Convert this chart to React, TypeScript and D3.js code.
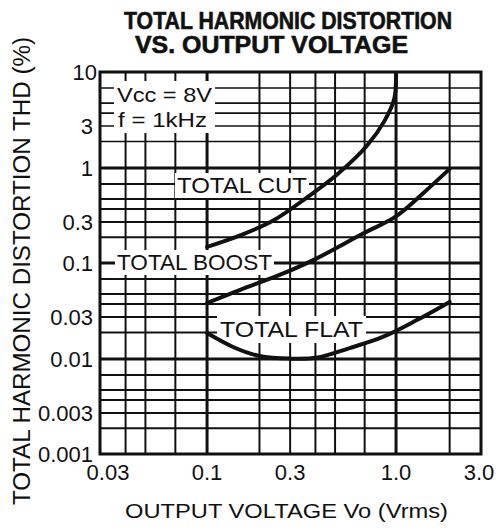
import React, { useEffect, useRef } from 'react';
import * as d3 from 'd3';

// ---------- data ----------
const titleLines = ['TOTAL HARMONIC DISTORTION', 'VS. OUTPUT VOLTAGE'];
const xAxisTitle = 'OUTPUT VOLTAGE Vo (Vrms)';
const yAxisTitle = 'TOTAL HARMONIC DISTORTION THD (%)';

const xTickValues = [0.03, 0.1, 0.3, 1, 3];
const xTickLabels = ['0.03', '0.1', '0.3', '1.0', '3.0'];
const yTickValues = [10, 3, 1, 0.3, 0.1, 0.03, 0.01, 0.003, 0.001];
const yTickLabels = ['10', '3', '1', '0.3', '0.1', '0.03', '0.01', '0.003', '0.001'];

const xGridValues = [0.04, 0.05, 0.07, 0.1, 0.2, 0.3, 0.4, 0.5, 0.7, 1, 2];
const yGridValues = [7, 5, 4, 3, 2, 1, 0.7, 0.5, 0.4, 0.3, 0.2, 0.1, 0.07, 0.05, 0.04, 0.03, 0.02, 0.01, 0.007, 0.005, 0.004, 0.003, 0.002];
const xMajorValues = [0.1, 1];
const yMajorValues = [1, 0.1, 0.01];

const seriesNames = ['TOTAL CUT', 'TOTAL BOOST', 'TOTAL FLAT'];
const cutVo = [0.1, 0.155, 0.24, 0.364, 0.51, 0.72, 0.88, 0.98, 1.0];
const cutThd = [0.154, 0.21, 0.31, 0.52, 0.86, 1.8, 3.4, 5.5, 10];
const boostVo = [0.1, 0.155, 0.263, 0.39, 0.687, 1.0, 1.42, 2.0];
const boostThd = [0.041, 0.055, 0.077, 0.108, 0.22, 0.34, 0.57, 0.98];
const flatVo = [0.1, 0.141, 0.2, 0.3, 0.41, 0.59, 0.86, 1.31, 2.0];
const flatThd = [0.0197, 0.0137, 0.0108, 0.0101, 0.0104, 0.0133, 0.0178, 0.0277, 0.042];

const conditionLines = ['Vcc = 8V', 'f = 1kHz'];

// ---------- layout ----------
const W = 496;
const H = 531;
const PL = 100, PR = 481, PT = 72, PB = 454;
// hand-drawn log paper: fractional positions of the labelled decades/thirds
const xFrac = [0, 0.281, 0.499, 0.777, 1];
const yFrac = [0, 54, 96, 150, 191, 245, 287, 341, 382].map((v) => v / 382);
const FONT = '"Liberation Sans", Arial, Helvetica, sans-serif';

export default function App() {
  const ref = useRef<SVGSVGElement | null>(null);

  useEffect(() => {
    const svg = d3.select(ref.current);
    svg.selectAll('*').remove();

    const x = d3.scaleLog().domain(xTickValues).range(xFrac.map((f) => PL + f * (PR - PL)));
    const y = d3.scaleLog().domain(yTickValues).range(yFrac.map((f) => PT + f * (PB - PT)));

    svg.append('rect').attr('width', W).attr('height', H).attr('fill', '#fff');

    svg.append('defs').append('clipPath').attr('id', 'plotClip')
      .append('rect').attr('x', PL).attr('y', PT).attr('width', PR - PL).attr('height', PB - PT);

    // grid
    const g = svg.append('g');
    g.selectAll('line.vx')
      .data(xGridValues)
      .join('line')
      .attr('x1', (d) => x(d)).attr('x2', (d) => x(d))
      .attr('y1', PT).attr('y2', PB)
      .attr('stroke', '#111')
      .attr('stroke-width', (d) => (xMajorValues.includes(d) ? 3 : 2));
    g.selectAll('line.hy')
      .data(yGridValues)
      .join('line')
      .attr('y1', (d) => y(d)).attr('y2', (d) => y(d))
      .attr('x1', PL).attr('x2', PR)
      .attr('stroke', '#111')
      .attr('stroke-width', (d) => (yMajorValues.includes(d) ? 3 : d > 1 ? 1.6 : 2));

    // labels inside plot with white backgrounds
    const labelLayer = svg.append('g');
    const textLayer = svg.append('g');

    const addLabel = (txt: string, lx: number, base: number, len: number, size: number) => {
      const t = textLayer.append('text')
        .attr('x', lx).attr('y', base)
        .attr('font-family', FONT)
        .attr('font-size', size)
        .attr('textLength', len)
        .attr('lengthAdjust', 'spacingAndGlyphs')
        .attr('fill', '#111')
        .text(txt);
      return t;
    };

    const condA = addLabel(conditionLines[0], 117, 102, 95, 21);
    const condB = addLabel(conditionLines[1], 118, 127, 89, 21);
    const lCut = addLabel(seriesNames[0], 177, 193, 130, 22);
    const lBoost = addLabel(seriesNames[1], 117, 270, 155, 22);
    const lFlat = addLabel(seriesNames[2], 220, 337, 143, 22);

    const bg = (nodes: any[], px: number, py: number) => {
      const boxes = nodes.map((n) => (n.node() as SVGTextElement).getBBox());
      const x0 = d3.min(boxes, (b) => b.x)! - px;
      const x1 = d3.max(boxes, (b) => b.x + b.width)! + px;
      const y0 = d3.min(boxes, (b) => b.y)! - py;
      const y1 = d3.max(boxes, (b) => b.y + b.height)! + py;
      labelLayer.append('rect')
        .attr('x', x0).attr('y', y0)
        .attr('width', x1 - x0).attr('height', y1 - y0)
        .attr('fill', '#fff');
    };
    bg([condA, condB], 3, 2);
    bg([lCut], 2, 0);
    bg([lBoost], 2, 0);
    bg([lFlat], 3, 1);

    // frame
    svg.append('rect')
      .attr('x', PL).attr('y', PT)
      .attr('width', PR - PL).attr('height', PB - PT)
      .attr('fill', 'none').attr('stroke', '#111').attr('stroke-width', 3);

    // curves
    const line = d3.line<[number, number]>()
      .x((d) => x(d[0]))
      .y((d) => y(d[1]))
      .curve(d3.curveCatmullRom.alpha(0.5));
    const series: [number[], number[]][] = [
      [cutVo, cutThd],
      [boostVo, boostThd],
      [flatVo, flatThd],
    ];
    svg.append('g')
      .attr('clip-path', 'url(#plotClip)')
      .selectAll('path')
      .data(series)
      .join('path')
      .attr('d', (s) => line(s[0].map((v, i) => [v, s[1][i]] as [number, number])))
      .attr('fill', 'none')
      .attr('stroke', '#111')
      .attr('stroke-width', 4)
      .attr('stroke-linecap', 'round');

    textLayer.raise();

    // tick labels
    svg.append('g')
      .selectAll('text')
      .data(xTickValues)
      .join('text')
      .attr('x', (d, i) => x(d) + (i === 0 ? 8 : i === xTickValues.length - 1 ? -2 : 0))
      .attr('y', 480)
      .attr('text-anchor', 'middle')
      .attr('font-family', FONT)
      .attr('font-size', 22)
      .attr('fill', '#111')
      .text((d, i) => xTickLabels[i]);

    svg.append('g')
      .selectAll('text')
      .data(yTickValues)
      .join('text')
      .attr('x', (d, i) => (i === 0 ? 97 : 93))
      .attr('y', (d) => y(d) + 8)
      .attr('text-anchor', 'end')
      .attr('font-family', FONT)
      .attr('font-size', 22)
      .attr('fill', '#111')
      .text((d, i) => yTickLabels[i]);

    // titles
    const tt = svg.append('g')
      .attr('font-family', FONT)
      .attr('font-weight', 'bold')
      .attr('font-size', 23)
      .attr('stroke', '#111')
      .attr('stroke-width', 0.6)
      .attr('fill', '#111');
    tt.append('text').attr('x', 124).attr('y', 29)
      .attr('textLength', 328).attr('lengthAdjust', 'spacingAndGlyphs')
      .text(titleLines[0]);
    tt.append('text').attr('x', 135).attr('y', 53)
      .attr('textLength', 273).attr('lengthAdjust', 'spacingAndGlyphs')
      .text(titleLines[1]);

    svg.append('text')
      .attr('x', 125).attr('y', 518)
      .attr('font-family', FONT).attr('font-size', 21)
      .attr('textLength', 323).attr('lengthAdjust', 'spacingAndGlyphs')
      .attr('fill', '#111')
      .text(xAxisTitle);

    svg.append('text')
      .attr('transform', 'translate(30,505) rotate(-90)')
      .attr('font-family', FONT).attr('font-size', 23)
      .attr('textLength', 468).attr('lengthAdjust', 'spacingAndGlyphs')
      .attr('fill', '#111')
      .text(yAxisTitle);
  }, []);

  return (
    <svg
      ref={ref}
      width={W}
      height={H}
      style={{ position: 'absolute', left: 0, top: 0, display: 'block', background: '#fff' }}
    />
  );
}
